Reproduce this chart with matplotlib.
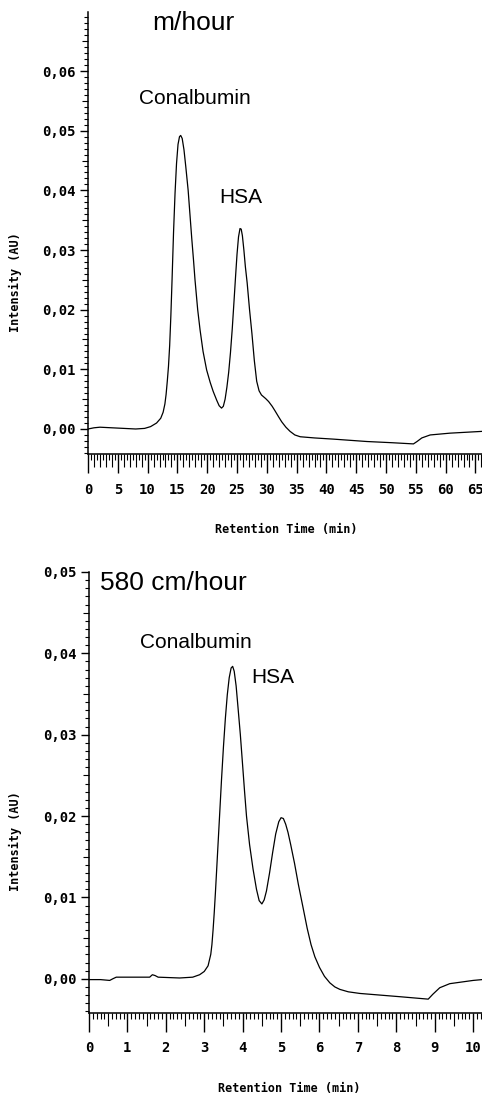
import matplotlib
matplotlib.use("Agg")
import matplotlib.pyplot as plt
from matplotlib.ticker import MultipleLocator, FuncFormatter

# --- data (time in min, intensity in AU) ---
slow_time = [0.0, 1.0, 2.0, 4.0, 6.0, 8.0, 9.5, 10.5, 11.5, 12.2, 12.6, 12.9,
             13.1, 13.3, 13.5, 13.7, 13.9, 14.1, 14.35, 14.6, 14.85, 15.1,
             15.35, 15.55, 15.8, 16.1, 16.4, 16.8, 17.1, 17.4, 17.7, 17.95,
             18.4, 18.8, 19.3, 19.9, 20.5, 21.0, 21.6, 22.0, 22.4, 22.7, 23.0,
             23.3, 23.6, 23.9, 24.2, 24.5, 24.75, 25.0, 25.25, 25.5, 25.7,
             25.9, 26.15, 26.4, 26.7, 27.1, 27.5, 27.9, 28.3, 28.7, 29.1,
             29.8, 30.3, 30.9, 31.4, 32.0, 32.5, 33.2, 33.9, 34.7, 35.6, 38.0,
             41.2, 46.8, 51.0, 54.6, 55.2, 56.0, 57.4, 60.7, 66.1]
slow_au = [0.0000, 0.0002, 0.0003, 0.0002, 0.0001, 0.0000, 0.0001, 0.0004,
           0.0010, 0.0018, 0.0028, 0.0042, 0.0058, 0.0080, 0.0105, 0.0140,
           0.0190, 0.0250, 0.0330, 0.0395, 0.0445, 0.0477, 0.0490, 0.0492,
           0.0487, 0.0468, 0.0440, 0.0400, 0.0360, 0.0320, 0.0283, 0.0250,
           0.0200, 0.0166, 0.0130, 0.0099, 0.0078, 0.0063, 0.0048, 0.0039,
           0.0035, 0.0038, 0.0050, 0.0070, 0.0095, 0.0128, 0.0168, 0.0215,
           0.0255, 0.0293, 0.0322, 0.0336, 0.0335, 0.0324, 0.0300, 0.0272,
           0.0245, 0.0200, 0.0160, 0.0115, 0.0080, 0.0064, 0.0057, 0.0051,
           0.0046, 0.0038, 0.0030, 0.0020, 0.0012, 0.0003, -0.0004, -0.0010,
           -0.0013, -0.0015, -0.0017, -0.0021, -0.0023, -0.0025, -0.0021,
           -0.0015, -0.0010, -0.0007, -0.0004]

fast_time = [0.00, 0.30, 0.54, 0.62, 0.71, 1.00, 1.58, 1.65, 1.72, 1.80, 2.36,
             2.70, 2.88, 3.00, 3.10, 3.17, 3.20, 3.23, 3.26, 3.29, 3.32, 3.36,
             3.40, 3.45, 3.50, 3.55, 3.60, 3.65, 3.70, 3.74, 3.78, 3.83, 3.88,
             3.94, 4.00, 4.05, 4.10, 4.18, 4.27, 4.36, 4.43, 4.50, 4.56, 4.62,
             4.70, 4.78, 4.86, 4.94, 5.00, 5.06, 5.12, 5.18, 5.25, 5.35, 5.45,
             5.57, 5.68, 5.78, 5.88, 6.00, 6.13, 6.27, 6.40, 6.53, 6.75, 7.05,
             8.09, 8.83, 8.95, 9.13, 9.39, 10.00, 10.23]
fast_au = [-0.0001, -0.0001, -0.0002, 0.0000, 0.0002, 0.0002, 0.0002, 0.0005,
           0.0004, 0.0002, 0.0001, 0.0002, 0.0005, 0.0009, 0.0016, 0.0030,
           0.0042, 0.0060, 0.0081, 0.0105, 0.0131, 0.0166, 0.0201, 0.0245,
           0.0285, 0.0320, 0.0349, 0.0370, 0.0382, 0.0384, 0.0378, 0.0360,
           0.0333, 0.0300, 0.0262, 0.0230, 0.0200, 0.0165, 0.0135, 0.0110,
           0.0096, 0.0092, 0.0097, 0.0108, 0.0130, 0.0155, 0.0178, 0.0193,
           0.0198, 0.0197, 0.0190, 0.0180, 0.0165, 0.0142, 0.0116, 0.0088,
           0.0062, 0.0042, 0.0027, 0.0014, 0.0003, -0.0005, -0.0010, -0.0013,
           -0.0016, -0.0018, -0.0022, -0.0025, -0.0019, -0.0011, -0.0006,
           -0.0002, -0.0001]

slow_title = "m/hour"
fast_title = "580 cm/hour"
peak_names = ["Conalbumin", "HSA"]

TICK_FONT = ["Liberation Sans Narrow", "DejaVu Sans Mono"]
LABEL_FONT = ["Liberation Sans", "DejaVu Sans"]


def comma_fmt(v, pos):
    return f"{v:.2f}".replace(".", ",").replace("-0,00", "0,00")


def style_axis(ax, xlim, ylim, x_major, x_minor, x_mid):
    ax.set_xlim(*xlim)
    ax.set_ylim(*ylim)
    for side in ("top", "right"):
        ax.spines[side].set_visible(False)
    for side in ("left", "bottom"):
        ax.spines[side].set_linewidth(1.1)

    ax.xaxis.set_major_locator(MultipleLocator(x_major))
    ax.xaxis.set_minor_locator(MultipleLocator(x_minor))
    ax.yaxis.set_major_locator(MultipleLocator(0.01))
    ax.yaxis.set_minor_locator(MultipleLocator(0.001))
    ax.yaxis.set_major_formatter(FuncFormatter(comma_fmt))

    ax.tick_params(axis="x", which="major", direction="out", length=13.5,
                   width=1.0, pad=7, labelsize=10)
    ax.tick_params(axis="x", which="minor", direction="out", length=4.3, width=0.8)
    ax.tick_params(axis="y", which="major", direction="out", length=6,
                   width=1.0, pad=3, labelsize=10)
    ax.tick_params(axis="y", which="minor", direction="out", length=3, width=0.8)

    for lab in ax.get_xticklabels() + ax.get_yticklabels():
        lab.set_family(TICK_FONT)
        lab.set_fontweight("bold")

    # longer minor ticks at the half-way marks
    for t, loc in zip(ax.xaxis.get_minor_ticks(), ax.xaxis.get_minorticklocs()):
        r = loc / x_mid
        if abs(r - round(r)) < 1e-6:
            t.tick1line.set_markersize(9)
    for t, loc in zip(ax.yaxis.get_minor_ticks(), ax.yaxis.get_minorticklocs()):
        r = loc / 0.005
        if abs(r - round(r)) < 1e-6:
            t.tick1line.set_markersize(4.5)

    ax.set_xlabel("Retention Time (min)", family=TICK_FONT, fontsize=8.5,
                  fontweight="bold", va="center")
    ax.set_ylabel("Intensity (AU)", family=TICK_FONT, fontsize=8.5,
                  fontweight="bold", va="center")


fig = plt.figure(figsize=(4.82, 10.97), dpi=100)
ax1 = fig.add_axes([0.1826, 0.5861, 1 - 0.1826, 0.9891 - 0.5861])
ax2 = fig.add_axes([0.1846, 0.0766, 1 - 0.1846, 0.4786 - 0.0766])

ax1.plot(slow_time, slow_au, color="black", lw=0.9)
style_axis(ax1, (0, 66.1), (-0.0042, 0.0699), 5, 0.5, 1)
ax1.xaxis.set_label_coords(0.503, -0.17)
ax1.yaxis.set_label_coords(-0.185, 0.39)
ax1.text(17.6, 0.0681, slow_title, ha="center", va="center", fontsize=19,
         family=LABEL_FONT)
ax1.text(18.0, 0.0554, peak_names[0], ha="center", va="center", fontsize=15,
         family=LABEL_FONT)
ax1.text(25.6, 0.0388, peak_names[1], ha="center", va="center", fontsize=15,
         family=LABEL_FONT)

ax2.plot(fast_time, fast_au, color="black", lw=0.9)
style_axis(ax2, (0, 10.23), (-0.0042, 0.050), 1, 0.1, 0.5)
ax2.xaxis.set_label_coords(0.509, -0.172)
ax2.yaxis.set_label_coords(-0.188, 0.39)
ax2.text(0.28, 0.0486, fast_title, ha="left", va="center", fontsize=19,
         family=LABEL_FONT)
ax2.text(2.77, 0.0413, peak_names[0], ha="center", va="center", fontsize=15,
         family=LABEL_FONT)
ax2.text(4.78, 0.0370, peak_names[1], ha="center", va="center", fontsize=15,
         family=LABEL_FONT)

fig.savefig("out.png", dpi=100)
